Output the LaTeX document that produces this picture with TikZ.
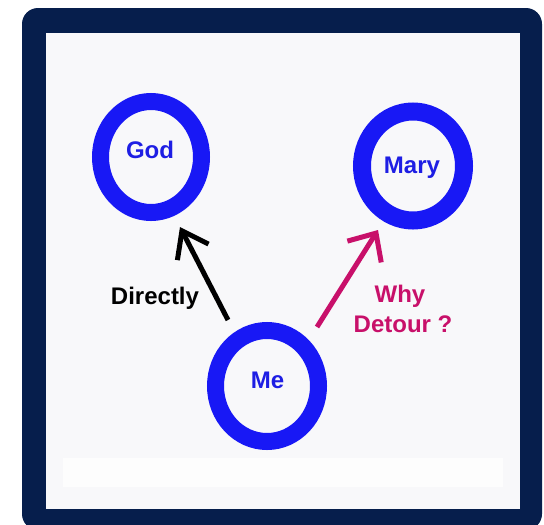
\documentclass[tikz,border=0pt]{standalone}
\usepackage{fontspec}
\setmainfont{Liberation Sans}
\usetikzlibrary{shapes.geometric,arrows.meta,calc}
\definecolor{navy}{RGB}{6,30,76}
\definecolor{paper}{RGB}{248,248,250}
\definecolor{boxwhite}{RGB}{253,253,253}
\definecolor{ringblue}{RGB}{24,24,245}
\definecolor{textblue}{RGB}{30,30,228}
\definecolor{detour}{RGB}{200,16,106}
\tikzset{
  ring/.style={ellipse, draw=ringblue, line width=17pt, fill=paper, inner sep=0pt, outer sep=0pt},
  nametext/.style={anchor=base, text=textblue, font=\bfseries\fontsize{24}{28}\selectfont, inner sep=0pt},
  edgetext/.style={anchor=base, font=\bfseries\fontsize{24}{30}\selectfont, inner sep=0pt, align=center},
  directarrow/.style={draw=black, line width=5pt, -{Straight Barb[length=24pt,width=35pt,line width=5pt]}},
  detourarrow/.style={draw=detour, line width=5pt, -{Straight Barb[length=22pt,width=40pt,line width=5pt]}}
}
\begin{document}
\begin{tikzpicture}[x=1pt,y=-1pt]
\useasboundingbox (0,0) rectangle (544,525);
\fill[white] (0,0) rectangle (544,525);
% frame
\fill[navy, rounded corners=16pt] (22,8) rectangle (542,530);
\fill[paper] (46,33) rectangle (520,509);
\fill[boxwhite] (63,458) rectangle (503,487);
% nodes
\node[ring, minimum width=101pt, minimum height=111pt] (god) at (151,157) {};
\node[ring, line width=18pt, minimum width=102pt, minimum height=109pt] (mary) at (413,166) {};
\node[ring, minimum width=103pt, minimum height=111pt] (me) at (267,386) {};
\node[nametext] (godtext) at (150,158) {God};
\node[nametext] (marytext) at (412,173) {Mary};
\node[nametext] (metext) at (267.5,388) {Me};
% connectors
\draw[directarrow] ($(me)+(-39,-66)$) -- ($(god)+(29,70)$);
\draw[detourarrow] ($(me)+(50,-59)$) -- ($(mary)+(-35,64)$);
% labels
\node[edgetext, text=black] (directly) at (155,304) {Directly};
\node[edgetext, text=detour] (why) at (400,302) {Why};
\node[edgetext, text=detour] (detourtext) at (403,332) {Detour ?};
\end{tikzpicture}
\end{document}
